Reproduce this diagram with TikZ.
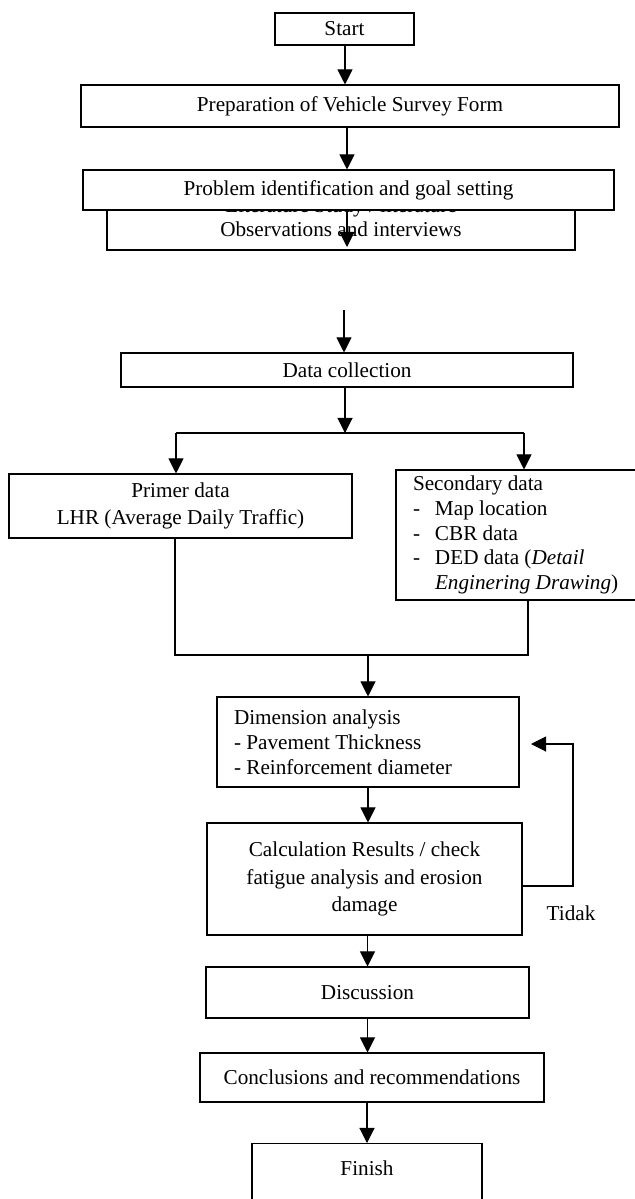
\documentclass[tikz,border=0pt]{standalone}
\usepackage{fontspec}
\setmainfont{Liberation Serif}
\usetikzlibrary{arrows.meta}

\newlength{\du}
\setlength{\du}{0.566pt}

\tikzset{
  box/.style={draw, fill=white, line width=0.6pt, inner sep=0pt, font=\fontsize{12}{14}\selectfont},
  lefttext/.style={align=left, execute at begin node={\spaceskip=0pt\xspaceskip=0pt\relax}},
  arr/.style={line width=0.6pt, -{Triangle[length=8.5pt,width=8.5pt]}},
  link/.style={line width=0.6pt},
}

\begin{document}
\begin{tikzpicture}
\pgftransformxscale{1.000000}
\pgftransformyscale{-1.000000}
\useasboundingbox (0\du,0\du) rectangle (635\du,1199\du);
% top part
\node[box, minimum width=139\du, minimum height=32\du] (start) at (344.5\du,29\du) {Start};
\node[box, minimum width=538\du, minimum height=42\du] (prep) at (350\du,106\du) {Preparation of Vehicle Survey Form};
\node[box, minimum width=468\du, minimum height=66\du, align=center, font=\fontsize{12}{13.6}\selectfont] (observ) at (341\du,217\du) {Literature Study / literature\\Observations and interviews};
\node[box, minimum width=531\du, minimum height=40\du] (problem) at (348.5\du,190\du) {Problem identification and goal setting};
\coordinate (obsend) at (347\du,247\du);
\coordinate (gapstart) at (344\du,310\du);
\draw[arr] (start.south -| 345\du,0) -- (345\du,85\du |- prep.north);
\draw[arr] (prep.south -| obsend) -- (problem.north -| obsend);
\draw[arr] (problem.south -| obsend) -- (obsend);

% data collection
\node[box, minimum width=452\du, minimum height=34\du] (datacol) at (347\du,370\du) {Data collection};
\draw[arr] (gapstart) -- (gapstart |- datacol.north);
\coordinate (split) at (345\du,433\du);
\coordinate (splitL) at (176\du,433\du);
\coordinate (splitR) at (524\du,433\du);
\draw[arr] (split |- datacol.south) -- (split);
\draw[link] (splitL) -- (splitR);

\node[box, minimum width=343\du, minimum height=64\du, align=center, font=\fontsize{12}{15.3}\selectfont] (primer) at (180.5\du,506\du) {Primer data\\LHR (Average Daily Traffic)};
\node[box, lefttext, text width=210\du, inner xsep=17\du, minimum height=130\du, font=\fontsize{12}{13.9}\selectfont] (secondary) at (518\du,535\du) {Secondary data\\
\makebox[22\du][l]{-}Map location\\
\makebox[22\du][l]{-}CBR data\\
\makebox[22\du][l]{-}DED data (\textit{Detail}\\
\hspace*{22\du}\textit{Enginering Drawing})};
\draw[arr] (splitL) -- (splitL |- primer.north);
\draw[arr] (splitR) -- (splitR |- secondary.north);

% merge
\coordinate (mergeL) at (175\du,655\du);
\coordinate (mergeR) at (528\du,655\du);
\coordinate (merge) at (368\du,655\du);
\draw[link] (mergeL |- primer.south) -- (mergeL) -- (mergeR) -- (mergeR |- secondary.south);

\node[box, lefttext, text width=268\du, inner xsep=17\du, minimum height=90\du, font=\fontsize{12}{14.2}\selectfont] (dim) at (368\du,742\du) {Dimension analysis\\- Pavement Thickness\\- Reinforcement diameter};
\draw[arr] (merge) -- (dim.north);

\node[box, minimum width=315\du, minimum height=112\du, align=center, font=\fontsize{12}{15.5}\selectfont] (calc) at (364.5\du,879\du) {Calculation Results / check\\fatigue analysis and erosion\\damage};
\draw[arr] (dim.south) -- (dim.south |- calc.north);

% loop back
\coordinate (fbturn) at (573\du,886\du);
\coordinate (fbend) at (531\du,744\du);
\draw[arr] (calc.east |- fbturn) -- (fbturn) |- (fbend);
\node[font=\fontsize{12}{14}\selectfont, inner sep=0pt] (tidak) at (571\du,913\du) {Tidak};

% end part
\node[box, minimum width=323\du, minimum height=51\du] (disc) at (367.5\du,992.5\du) {Discussion};
\node[box, minimum width=344\du, minimum height=49\du] (concl) at (372\du,1077.5\du) {Conclusions and recommendations};
\node[box, anchor=north, minimum width=230\du, inner ysep=17\du, text depth=50\du] (finish) at (367\du,1143\du) {Finish};
\draw[arr] (calc.south -| disc.north) -- (disc.north);
\draw[arr] (disc.south) -- (disc.south |- concl.north);
\draw[arr] (concl.south -| finish.north) -- (finish.north);
\end{tikzpicture}
\end{document}
